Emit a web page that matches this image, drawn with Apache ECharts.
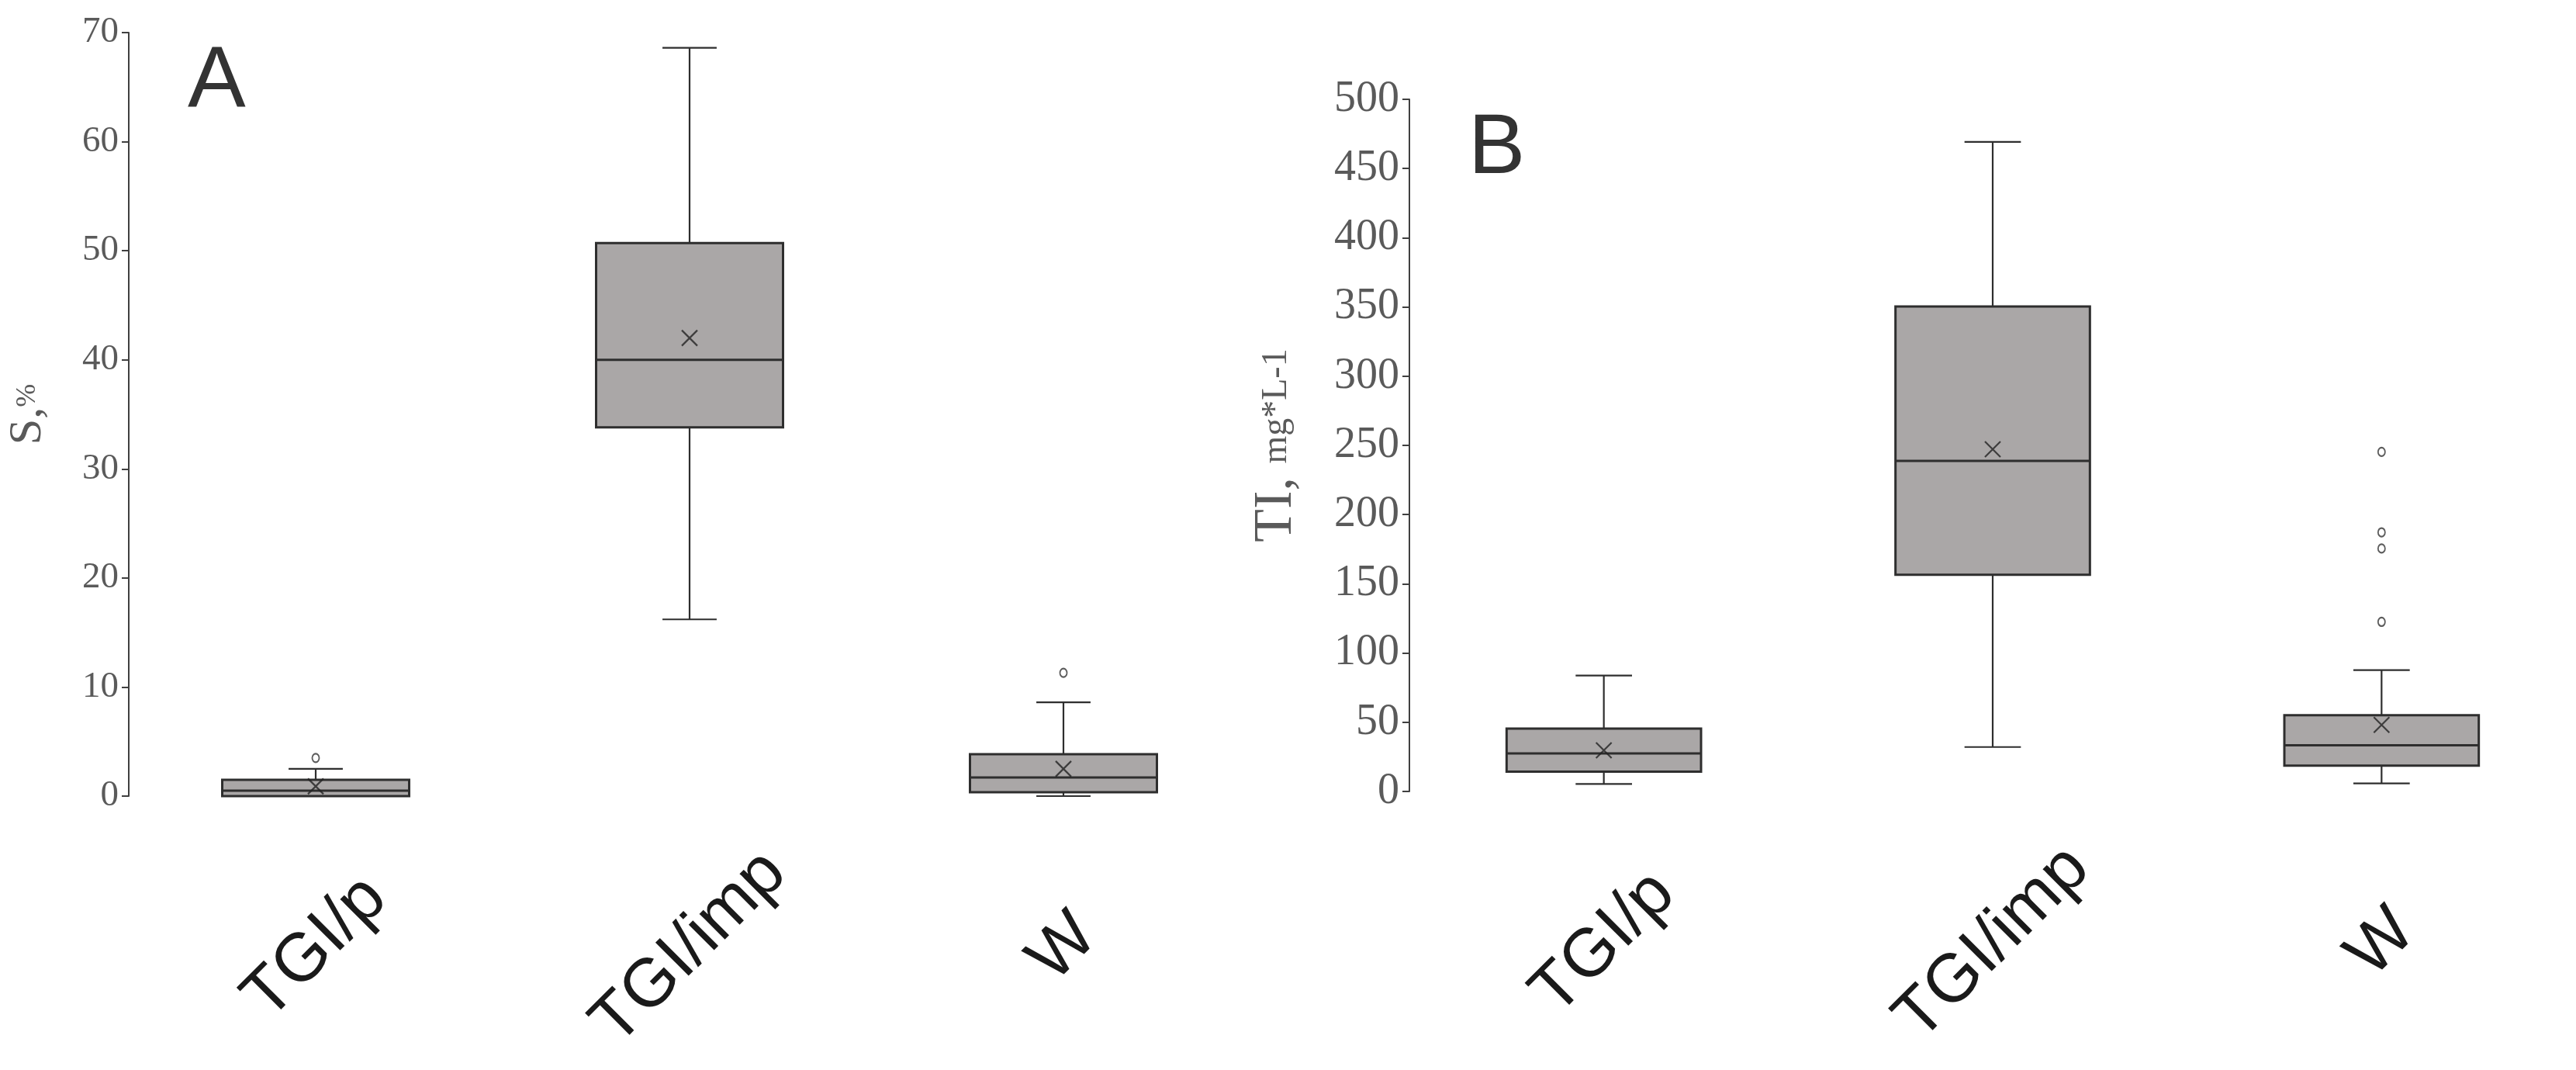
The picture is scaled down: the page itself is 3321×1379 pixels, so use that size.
<!DOCTYPE html>
<html>
<head>
<meta charset="utf-8">
<script src="https://cdn.jsdelivr.net/npm/echarts@6/dist/echarts.min.js"></script>
<style>
  html, body { margin: 0; padding: 0; background: #fff; }
  #chart { width: 3321px; height: 1379px; }
</style>
</head>
<body>
<div id="chart"></div>
<script>
// groups on both panels
const categories = ['TGI/p', 'TGI/imp', 'W'];

// panel A: S, %  -> [min, Q1, median, Q3, max]
const boxA = [
  [0, 0, 0.5, 1.5, 2.5],
  [16.2, 33.8, 40.0, 50.7, 68.6],
  [0, 0.35, 1.7, 3.85, 8.6]
];
const meanA = [0.9, 42.0, 2.5];
const outliersA = [[0, 3.5], [2, 11.3]];

// panel B: TI, mg*L-1
const boxB = [
  [5.4, 14.3, 27.5, 45.4, 83.7],
  [32.1, 156.5, 238.8, 350.3, 469.2],
  [5.8, 18.6, 33.3, 55.1, 87.7]
];
const meanB = [29.7, 247.2, 48.1];
const outliersB = [[2, 122.5], [2, 175.5], [2, 187.2], [2, 245.3]];

const yTicksA = { min: 0, max: 70, interval: 10 };
const yTicksB = { min: 0, max: 500, interval: 50 };

const LINE = '#2e2e2e';
const FILL = '#aaa7a7';

// box + whiskers drawn through the axes
function renderBox(params, api) {
  const c = api.value(0);
  const lo = api.coord([c, api.value(1)]);
  const q1 = api.coord([c, api.value(2)]);
  const md = api.coord([c, api.value(3)]);
  const q3 = api.coord([c, api.value(4)]);
  const hi = api.coord([c, api.value(5)]);
  const band = api.size([1, 0])[0];
  const bw = band * 0.5;
  const cw = band * 0.145;
  const cx = md[0];
  const wStyle = { stroke: LINE, lineWidth: 2.2 };
  return {
    type: 'group',
    children: [
      { type: 'line', shape: { x1: cx, y1: hi[1], x2: cx, y2: q3[1] }, style: wStyle },
      { type: 'line', shape: { x1: cx, y1: q1[1], x2: cx, y2: lo[1] }, style: wStyle },
      { type: 'line', shape: { x1: cx - cw / 2, y1: hi[1], x2: cx + cw / 2, y2: hi[1] }, style: wStyle },
      { type: 'line', shape: { x1: cx - cw / 2, y1: lo[1], x2: cx + cw / 2, y2: lo[1] }, style: wStyle },
      { type: 'rect', shape: { x: cx - bw / 2, y: q3[1], width: bw, height: q1[1] - q3[1] },
        style: { fill: FILL, stroke: LINE, lineWidth: 3 } },
      { type: 'line', shape: { x1: cx - bw / 2, y1: md[1], x2: cx + bw / 2, y2: md[1] },
        style: { stroke: LINE, lineWidth: 3 } }
    ]
  };
}

const toRows = (boxes) => boxes.map((b, i) => [i].concat(b));
const toMeans = (means) => means.map((m, i) => [i, m]);

const crossPath = 'path://M0,0L10,10M10,0L0,10';

function xAxisFor(gi) {
  return {
    type: 'category',
    gridIndex: gi,
    data: categories,
    axisLine: { show: false },
    axisTick: { show: false },
    axisLabel: {
      rotate: 45,
      align: 'center',
      verticalAlign: 'middle',
      margin: 196,
      fontFamily: 'Liberation Sans',
      fontSize: 88,
      color: '#1a1a1a'
    }
  };
}

function yAxisFor(gi, ticks, name, nameGap, tickSize, bigName, smallName) {
  return {
    type: 'value',
    gridIndex: gi,
    min: ticks.min,
    max: ticks.max,
    interval: ticks.interval,
    name: name,
    nameLocation: 'middle',
    nameGap: nameGap,
    nameTextStyle: {
      color: '#5a5a5a',
      fontFamily: 'Liberation Serif',
      rich: {
        a: { fontSize: bigName, fontFamily: 'Liberation Serif', color: '#5a5a5a' },
        b: { fontSize: smallName, fontFamily: 'Liberation Serif', color: '#5a5a5a' }
      }
    },
    axisLine: { show: true, lineStyle: { color: '#404040', width: 2 } },
    axisTick: { show: true, length: 9, lineStyle: { color: '#404040', width: 2 } },
    splitLine: { show: false },
    axisLabel: {
      margin: 13,
      fontFamily: 'Liberation Serif',
      fontSize: tickSize,
      color: '#5a5a5a'
    }
  };
}

const chart = echarts.init(document.getElementById('chart'), null, { renderer: 'canvas' });
chart.setOption({
  backgroundColor: '#ffffff',
  animation: false,
  grid: [
    { left: 166, top: 42, width: 1446, height: 984 },
    { left: 1817, top: 128, width: 1626, height: 892 }
  ],
  xAxis: [xAxisFor(0), xAxisFor(1)],
  yAxis: [
    yAxisFor(0, yTicksA, '{a|S,}{b|%}', 100, 47, 60, 36),
    yAxisFor(1, yTicksB, '{a|TI, }{b|mg*L-1}', 136, 56, 70, 46)
  ],
  graphic: [
    { type: 'text', x: 242, y: 106, style: { text: 'A', font: '112px "Liberation Sans"', fill: '#333', verticalAlign: 'middle' } },
    { type: 'text', x: 1893, y: 193, style: { text: 'B', font: '110px "Liberation Sans"', fill: '#333', verticalAlign: 'middle' } }
  ],
  series: [
    {
      type: 'custom', xAxisIndex: 0, yAxisIndex: 0,
      renderItem: renderBox, data: toRows(boxA),
      encode: { x: 0, y: [1, 2, 3, 4, 5] }, z: 2
    },
    {
      type: 'custom', xAxisIndex: 1, yAxisIndex: 1,
      renderItem: renderBox, data: toRows(boxB),
      encode: { x: 0, y: [1, 2, 3, 4, 5] }, z: 2
    },
    {
      type: 'scatter', xAxisIndex: 0, yAxisIndex: 0, z: 5,
      symbol: crossPath, symbolSize: 20,
      itemStyle: { color: 'none', borderColor: '#222', borderWidth: 2.2 },
      data: toMeans(meanA)
    },
    {
      type: 'scatter', xAxisIndex: 1, yAxisIndex: 1, z: 5,
      symbol: crossPath, symbolSize: 20,
      itemStyle: { color: 'none', borderColor: '#222', borderWidth: 2.2 },
      data: toMeans(meanB)
    },
    {
      type: 'scatter', xAxisIndex: 0, yAxisIndex: 0, z: 5,
      symbol: 'emptyCircle', symbolSize: [9, 11],
      itemStyle: { color: '#333', borderColor: '#333', borderWidth: 2.5 },
      data: outliersA
    },
    {
      type: 'scatter', xAxisIndex: 1, yAxisIndex: 1, z: 5,
      symbol: 'emptyCircle', symbolSize: [9, 11],
      itemStyle: { color: '#333', borderColor: '#333', borderWidth: 2.5 },
      data: outliersB
    }
  ]
});
</script>
</body>
</html>
